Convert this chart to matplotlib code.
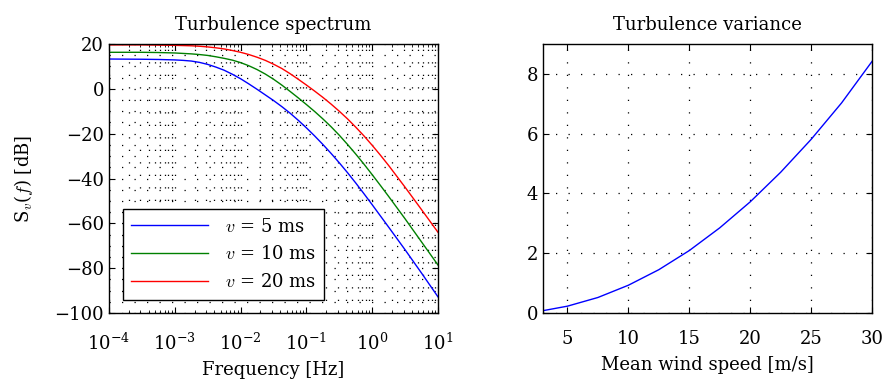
import matplotlib
matplotlib.use('Agg')
import matplotlib.pyplot as plt
from matplotlib.ticker import MultipleLocator, LogLocator, NullFormatter
import numpy as np

# spectrum data (log10 of frequency, dB)
log_freq = [-4, -3.5, -3.25, -3, -2.875, -2.75, -2.625, -2.5, -2.375, -2.25,
            -2.125, -2, -1.875, -1.75, -1.625, -1.5, -1.375, -1.25, -1.125,
            -1, -0.875, -0.75, -0.625, -0.5, -0.375, -0.25, -0.125, 0,
            0.125, 0.25, 0.5, 0.75, 1]
spec_5 = [13.3, 13.2, 13.1, 12.9, 12.7, 12.4, 11.8, 10.9, 9.7, 8.3,
          6.5, 4.5, 2.2, -0.2, -2.7, -5.2, -7.9, -10.8, -14.0,
          -17.4, -21.0, -24.8, -28.8, -33.0, -37.4, -42.0, -46.8, -51.7,
          -56.7, -61.7, -71.8, -82.2, -92.8]
spec_10 = [16.3, 16.3, 16.2, 16.0, 15.8, 15.6, 15.3, 14.9, 14.3, 13.6,
           12.8, 11.7, 10.3, 8.6, 6.6, 4.3, 1.7, -1.1, -4.0,
           -7.0, -10.1, -13.4, -16.9, -20.7, -24.8, -29.1, -33.6, -38.3,
           -43.1, -48.0, -58.0, -68.3, -78.6]
spec_20 = [19.6, 19.6, 19.5, 19.4, 19.3, 19.2, 19.0, 18.7, 18.3, 17.8,
           17.1, 16.3, 15.3, 14.1, 12.7, 11.0, 9.1, 6.8, 4.3,
           1.7, -1.0, -3.8, -6.8, -10.0, -13.4, -17.1, -21.0, -25.2,
           -29.6, -34.2, -43.9, -53.9, -64.0]
legend_labels = [r'$v$ = 5 ms', r'$v$ = 10 ms', r'$v$ = 20 ms']

# variance vs mean wind speed
wind_speed = [3, 5, 7.5, 10, 12.5, 15, 17.5, 20, 22.5, 25, 27.5, 30]
variance = [0.08, 0.23, 0.52, 0.93, 1.45, 2.09, 2.85, 3.72, 4.71, 5.81, 7.03, 8.42]

plt.rcParams['font.family'] = 'DejaVu Serif'
plt.rcParams['mathtext.fontset'] = 'cm'
plt.rcParams['font.size'] = 13

fig = plt.figure(figsize=(8.84, 3.86), dpi=100)
ax1 = fig.add_axes([0.1233, 0.189, 0.3722, 0.697])
ax2 = fig.add_axes([0.6143, 0.189, 0.3722, 0.697])

# sparse matlab-like dotted grid
dots = (0, (1, 9))

freq = 10 ** np.array(log_freq)
colors = ['#0000ff', '#008000', '#ff0000']
for vals, c, lab in zip([spec_5, spec_10, spec_20], colors, legend_labels):
    ax1.semilogx(freq, vals, color=c, lw=1.0, label=lab)

ax1.set_xlim(1e-4, 1e1)
ax1.set_ylim(-100, 20)
ax1.set_yticks([-100, -80, -60, -40, -20, 0, 20])
ax1.set_yticklabels(['\u2212100', '\u221280', '\u221260', '\u221240', '\u221220', '0', '20'])
ax1.yaxis.set_minor_locator(MultipleLocator(5))
ax1.xaxis.set_major_locator(LogLocator(base=10, numticks=10))
ax1.xaxis.set_minor_locator(LogLocator(base=10, subs=np.arange(2, 10), numticks=20))
ax1.xaxis.set_minor_formatter(NullFormatter())
ax1.grid(True, which='both', ls=dots, color='k', lw=0.9)
ax1.set_title('Turbulence spectrum', fontsize=13, pad=10)
ax1.set_xlabel('Frequency [Hz]', labelpad=5)
ax1.set_ylabel(r'S$_v$($f$) [dB]', labelpad=14)
leg = ax1.legend(loc='lower left', fancybox=False, edgecolor='k', framealpha=1,
                 fontsize=13, handlelength=4.3, borderaxespad=0.75,
                 labelspacing=0.55, borderpad=0.45, handletextpad=0.9)
leg.get_frame().set_linewidth(1.0)

ax2.plot(wind_speed, variance, color='#0000ff', lw=1.0)
ax2.set_xlim(3, 30)
ax2.set_ylim(0, 9)
ax2.set_xticks([5, 10, 15, 20, 25, 30])
ax2.set_yticks([0, 2, 4, 6, 8])
ax2.grid(True, ls=dots, color='k', lw=0.9)
ax2.set_title('Turbulence variance', fontsize=13, pad=10)
ax2.set_xlabel('Mean wind speed [m/s]', labelpad=6)

for ax in (ax1, ax2):
    for s in ax.spines.values():
        s.set_linewidth(1.0)
    ax.tick_params(which='both', direction='in', top=True, right=True)
    ax.tick_params(which='major', length=4, labelsize=13)
    ax.tick_params(which='minor', length=2)
ax1.tick_params(axis='y', which='minor', length=0)
ax1.tick_params(axis='x', which='major', pad=14)
ax2.tick_params(axis='x', which='major', pad=12)

fig.savefig('out.png', dpi=100)
